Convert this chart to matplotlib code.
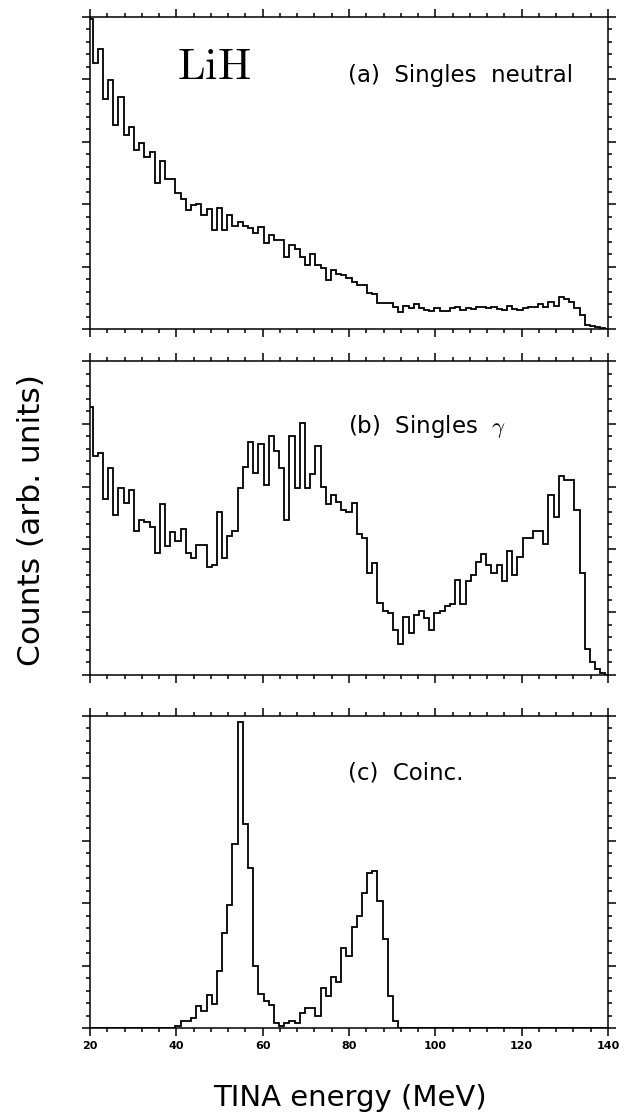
import numpy as np
import matplotlib
matplotlib.use("Agg")
import matplotlib.pyplot as plt
from matplotlib.ticker import MultipleLocator

plt.rcParams['font.family'] = ['DejaVu Sans']
plt.rcParams['mathtext.fontset'] = 'cm'

# bin edges of the TINA spectra (MeV), 1.2 MeV channels
edges = 19.4 + 1.2 * np.arange(102)

# (a) singles neutral
singles_neutral = [
    4.96, 4.27, 4.49, 3.69, 3.99, 3.27, 3.72, 3.11, 3.23, 2.87,
    2.98, 2.76, 2.84, 2.34, 2.69, 2.40, 2.40, 2.18, 2.08, 1.90,
    1.99, 2.00, 1.83, 1.92, 1.59, 1.94, 1.59, 1.83, 1.65, 1.72,
    1.65, 1.62, 1.54, 1.64, 1.38, 1.50, 1.42, 1.42, 1.16, 1.35,
    1.28, 1.16, 1.03, 1.20, 1.03, 0.98, 0.79, 0.95, 0.88, 0.87,
    0.81, 0.76, 0.70, 0.70, 0.57, 0.56, 0.42, 0.41, 0.41, 0.35,
    0.28, 0.37, 0.33, 0.40, 0.34, 0.31, 0.29, 0.33, 0.29, 0.29,
    0.33, 0.36, 0.31, 0.34, 0.32, 0.35, 0.36, 0.33, 0.35, 0.32,
    0.31, 0.37, 0.32, 0.30, 0.34, 0.36, 0.36, 0.40, 0.36, 0.44,
    0.37, 0.51, 0.48, 0.44, 0.34, 0.23, 0.07, 0.05, 0.03, 0.01, 0.0]

# (b) singles gamma
singles_gamma = [
    4.26, 3.49, 3.54, 2.81, 3.29, 2.54, 2.97, 2.74, 2.95, 2.30,
    2.47, 2.43, 2.35, 1.95, 2.72, 2.05, 2.27, 2.14, 2.32, 1.95,
    1.87, 2.07, 2.07, 1.72, 1.75, 2.60, 1.87, 2.21, 2.30, 2.97,
    3.32, 3.71, 3.22, 3.68, 3.02, 3.81, 3.56, 3.29, 2.47, 3.81,
    2.97, 4.01, 2.97, 3.20, 3.64, 3.00, 2.72, 2.87, 2.76, 2.63,
    2.60, 2.74, 2.25, 2.18, 1.62, 1.78, 1.15, 1.02, 0.98, 0.72,
    0.50, 0.93, 0.67, 0.96, 1.02, 0.90, 0.72, 0.98, 1.02, 1.10,
    1.13, 1.52, 1.13, 1.50, 1.59, 1.80, 1.93, 1.75, 1.63, 1.75,
    1.49, 1.98, 1.59, 1.88, 2.18, 2.18, 2.30, 2.30, 2.09, 2.87,
    2.51, 3.17, 3.11, 3.11, 2.63, 1.62, 0.42, 0.20, 0.09, 0.03, 0.0]

# (c) coincidences
coinc = [0.0] * 17 + [
    0.03, 0.12, 0.12, 0.16, 0.36, 0.27, 0.53, 0.39, 0.92, 1.52,
    1.97, 2.95, 4.90, 3.27, 2.56, 0.99, 0.54, 0.43, 0.37, 0.08,
    0.03, 0.08, 0.11, 0.08, 0.24, 0.32, 0.32, 0.20, 0.64, 0.52,
    0.82, 0.73, 1.28, 1.15, 1.62, 1.79, 2.17, 2.48, 2.52, 2.03,
    1.43, 0.52, 0.11] + [0.0] * 41

panels = [singles_neutral, singles_gamma, coinc]
labels = ['(a)  Singles  neutral', r'(b)  Singles  $\gamma$', '(c)  Coinc.']
label_y = [0.814, 0.79, 0.817]

fig = plt.figure(figsize=(6.24, 11.16), dpi=100)
W, H = 624.0, 1116.0
# panel boxes in pixels: (top, bottom)
boxes = [(17, 329), (361, 675), (716, 1028)]
x0, x1 = 90, 608

axes = []
for (top, bot), vals, lab, ly in zip(boxes, panels, labels, label_y):
    ax = fig.add_axes([x0 / W, 1 - bot / H, (x1 - x0) / W, (bot - top) / H])
    ax.stairs(vals, edges, color='black', linewidth=1.3)
    ax.set_xlim(20, 140)
    ax.set_ylim(0, 5)
    ax.xaxis.set_major_locator(MultipleLocator(20))
    ax.xaxis.set_minor_locator(MultipleLocator(4))
    ax.yaxis.set_major_locator(MultipleLocator(1))
    ax.yaxis.set_minor_locator(MultipleLocator(0.2))
    ax.tick_params(which='both', direction='out', top=True, right=True,
                   labelleft=False, labelbottom=False, width=1.1)
    ax.tick_params(which='major', length=6)
    ax.tick_params(which='minor', length=3)
    for s in ax.spines.values():
        s.set_linewidth(1.1)
    ax.text(0.498, ly, lab, transform=ax.transAxes, fontsize=16.5,
            ha='left', va='center')
    axes.append(ax)

axes[0].text(0.239, 0.84, r'$\mathrm{LiH}$', transform=axes[0].transAxes,
             fontsize=32, ha='center', va='center')

axes[2].tick_params(labelbottom=True, labelsize=8)
for t in axes[2].get_xticklabels():
    t.set_fontweight('bold')

fig.text(32 / W, 1 - 520 / H, 'Counts (arb. units)', rotation=90,
         fontsize=22.5, ha='center', va='center')
fig.text(350 / W, 1 - 1098 / H, 'TINA energy (MeV)', fontsize=21,
         ha='center', va='center')

fig.savefig('out.png', dpi=100)
